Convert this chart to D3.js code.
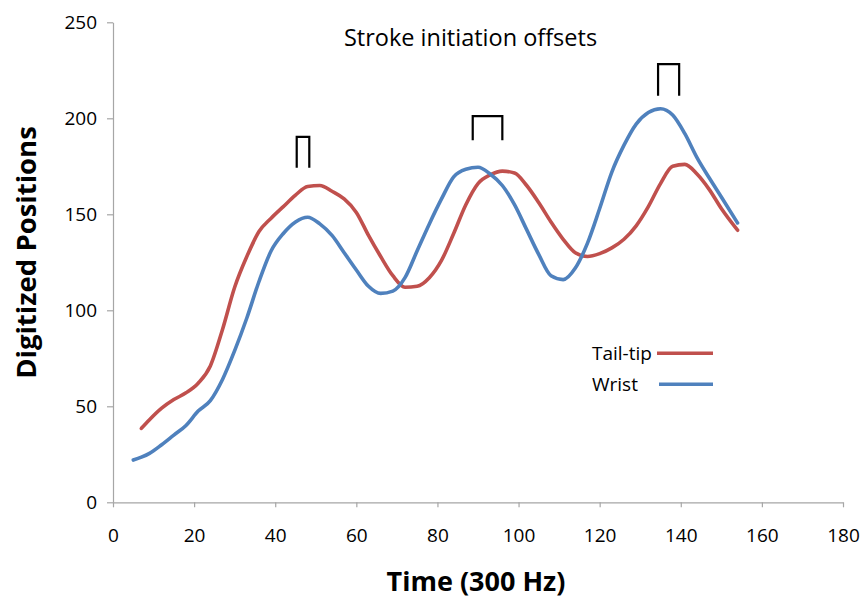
<!DOCTYPE html>
<html>
<head>
<meta charset="utf-8">
<script src="https://cdn.jsdelivr.net/npm/d3@7"></script>
<style>
  body { margin: 0; background: #fff; }
  text { font-family: "Open Sans", "Noto Sans", sans-serif; fill: #000; }
</style>
</head>
<body>
<svg id="chart" width="862" height="600"></svg>
<script>
// ---- data ----
const wristTime = [5,7,9,12,15,18,21,24,27,30,33,36,39,42,45,48,51,54,57,60,63,66,69,72,75,78,81,84,87,90,93,96,99,102,105,108,111,114,117,120,123,126,129,132,135,138,141,144,147,150,154];
const wristPos  = [22,23.5,25.5,30,35,40,47.5,53,64,79,96,115,131,140,146,148.5,145,139,130,121,112.5,108.8,110,117,131,145,158,169.5,173.5,174.5,171,165,155,142,129,118,116,122,135,153,172,186,197,203,205,201.7,192,179.5,169,159,145.5];

const tailTime = [7,9,12,15,18,21,24,27,30,33,36,39,42,45,48,51,54,57,60,63,66,69,72,75,78,81,84,87,90,93,96,99,102,105,108,111,114,117,120,123,126,129,132,135,138,141,144,147,150,154];
const tailPos  = [38.5,43,49,53.5,57,62,71,90,112,128,141,148,154,160,164.5,165,162,158,151,139,128,118,112,112.5,117,126,140,155,166,170.5,172.5,171.5,165,156,146,137,130,128,129.5,132.5,137,144,154,166,175,176,171,163,153,141.7];

// stroke initiation offset brackets: start time, end time, top value, bottom value
const offsetStart  = [45.3, 88.7, 134.4];
const offsetEnd    = [48.4, 96.0, 139.6];
const offsetTop    = [190.3, 201.1, 228.2];
const offsetBottom = [174.2, 188.6, 211.7];

const xTicks = [0,20,40,60,80,100,120,140,160,180];
const yTicks = [0,50,100,150,200,250];

const seriesNames = ["Tail-tip", "Wrist"];
const seriesColors = ["#C0504D", "#4F81BD"];

// ---- chart ----
const svg = d3.select("#chart");
const x = d3.scaleLinear().domain([0,180]).range([113,843]);
const y = d3.scaleLinear().domain([0,250]).range([502.3,22.3]);

const axisColor = "#a6a6a6";

const gx = svg.append("g").attr("transform", `translate(0,${y(0)})`)
  .call(d3.axisBottom(x).tickValues(xTicks).tickSize(5).tickSizeOuter(0).tickPadding(21));
const gy = svg.append("g").attr("transform", `translate(${x(0)},0)`)
  .call(d3.axisLeft(y).tickValues(yTicks).tickSize(6).tickSizeOuter(0).tickPadding(10));

[gx, gy].forEach(g => {
  g.select(".domain").attr("stroke", axisColor).attr("stroke-width", 1.2);
  g.selectAll(".tick line").attr("stroke", axisColor).attr("stroke-width", 1.2);
  g.selectAll(".tick text").attr("font-family", '"Open Sans", sans-serif').attr("font-size", 19).attr("fill", "#000");
});

// lines
const line = d3.line().x(d => x(d[0])).y(d => y(d[1])).curve(d3.curveMonotoneX);
const wristData = wristTime.map((t,i) => [t, wristPos[i]]);
const tailData = tailTime.map((t,i) => [t, tailPos[i]]);

svg.append("path").datum(tailData).attr("d", line)
  .attr("fill", "none").attr("stroke", seriesColors[0]).attr("stroke-width", 3.6)
  .attr("stroke-linejoin", "round").attr("stroke-linecap", "round");
svg.append("path").datum(wristData).attr("d", line)
  .attr("fill", "none").attr("stroke", seriesColors[1]).attr("stroke-width", 3.6)
  .attr("stroke-linejoin", "round").attr("stroke-linecap", "round");

// brackets
offsetStart.forEach((s, i) => {
  const e = offsetEnd[i];
  svg.append("path")
    .attr("d", `M${x(s)},${y(offsetBottom[i])}V${y(offsetTop[i])}H${x(e)}V${y(offsetBottom[i])}`)
    .attr("fill", "none").attr("stroke", "#000").attr("stroke-width", 2.2);
});

// title
svg.append("text").attr("x", 470.5).attr("y", 46).attr("text-anchor", "middle")
  .attr("font-size", 23.5).text("Stroke initiation offsets");

// axis titles
svg.append("text").attr("x", 476).attr("y", 591).attr("text-anchor", "middle")
  .attr("font-size", 27).attr("font-weight", "bold").text("Time (300 Hz)");
svg.append("text").attr("transform", "translate(36,252.5) rotate(-90)").attr("text-anchor", "middle")
  .attr("font-size", 27.5).attr("font-weight", "bold").text("Digitized Positions");

// legend
const legY = [353.3, 384.3];
seriesNames.forEach((n, i) => {
  svg.append("text").attr("x", 592).attr("y", legY[i] + 7).attr("font-size", 19).text(n);
  svg.append("line").attr("x1", i === 0 ? 657 : 659).attr("x2", 713)
    .attr("y1", legY[i]).attr("y2", legY[i])
    .attr("stroke", seriesColors[i]).attr("stroke-width", 3.6);
});
</script>
</body>
</html>
